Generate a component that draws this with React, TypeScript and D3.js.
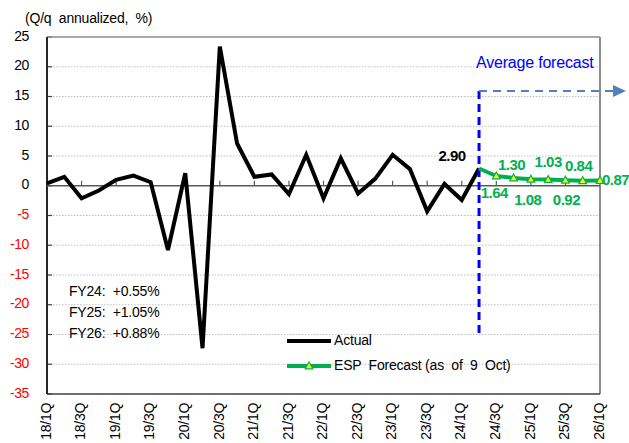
import React from 'react';
import * as d3 from 'd3';

// Quarters on the x axis, 18/1Q .. 26/1Q
const quarters = [
  '18/1Q', '18/2Q', '18/3Q', '18/4Q', '19/1Q', '19/2Q', '19/3Q', '19/4Q',
  '20/1Q', '20/2Q', '20/3Q', '20/4Q', '21/1Q', '21/2Q', '21/3Q', '21/4Q',
  '22/1Q', '22/2Q', '22/3Q', '22/4Q', '23/1Q', '23/2Q', '23/3Q', '23/4Q',
  '24/1Q', '24/2Q', '24/3Q', '24/4Q', '25/1Q', '25/2Q', '25/3Q', '25/4Q',
  '26/1Q',
];

// Actual real GDP growth, 18/1Q .. 24/2Q
const actual = [
  0.4, 1.5, -2.1, -0.8, 1.0, 1.7, 0.6, -10.8,
  2.1, -27.3, 23.4, 7.1, 1.5, 1.9, -1.4, 5.2,
  -2.1, 4.6, -1.3, 1.2, 5.2, 2.8, -4.3, 0.3,
  -2.4, 2.9,
];

// ESP forecast, starting from the last actual (24/2Q)
const forecastQuarters = ['24/2Q', '24/3Q', '24/4Q', '25/1Q', '25/2Q', '25/3Q', '25/4Q', '26/1Q'];
const forecast = [2.9, 1.64, 1.3, 1.08, 1.03, 0.92, 0.84, 0.87];

const yTicks = [25, 20, 15, 10, 5, 0, -5, -10, -15, -20, -25, -30, -35];
const fyNotes = ['FY24:  +0.55%', 'FY25:  +1.05%', 'FY26:  +0.88%'];

// label offsets for the forecast values (skip the first point)
const labelOffsets: [number, number, string][] = [
  [0, 0, 'middle'],
  [-2, 18, 'middle'],
  [-2, -12, 'middle'],
  [-3, 22, 'middle'],
  [0, -17, 'middle'],
  [1, 21, 'middle'],
  [-4, -14, 'middle'],
  [2, 0, 'start'],
];

const W = 629;
const H = 443;
const left = 47, right = 600, top = 37, bottom = 394;
const GREEN = '#00b050';
const font = '"Liberation Sans", Arial, sans-serif';

const x = d3.scalePoint<string>().domain(quarters).range([left, right]).padding(0);
const y = d3.scaleLinear().domain([-35, 25]).range([bottom, top]);

const tri = (cx: number, cy: number, r: number) =>
  `M${cx},${cy - r}L${cx + r * 0.95},${cy + r * 0.7}L${cx - r * 0.95},${cy + r * 0.7}Z`;

export default function App() {
  const actualLine = d3
    .line<number>()
    .x((_, i) => x(quarters[i])!)
    .y(d => y(d))(actual)!;

  const fcLine = d3
    .line<number>()
    .x((_, i) => x(forecastQuarters[i])!)
    .y(d => y(d))(forecast)!;

  const splitX = x('24/2Q')!;
  const y0 = y(0);

  return (
    <svg
      width={W}
      height={H}
      style={{ position: 'absolute', left: 0, top: 0, background: '#fff' }}
      fontFamily={font}
    >
      {/* gridlines */}
      {yTicks.filter(t => t !== 0 && t !== 25 && t !== -35).map(t => (
        <line key={t} x1={left} x2={right} y1={y(t)} y2={y(t)}
          stroke="#bfbfbf" strokeWidth={1} strokeDasharray="1.5,1.5" />
      ))}

      {/* y ticks (inside) */}
      {yTicks.map(t => (
        <line key={'yt' + t} x1={left} x2={left + 5} y1={y(t)} y2={y(t)} stroke="#404040" strokeWidth={1.2} />
      ))}

      {/* frame */}
      <line x1={left} x2={right} y1={top} y2={top} stroke="#8c8c8c" strokeWidth={1.5} />
      <line x1={right} x2={right} y1={top} y2={bottom} stroke="#8c8c8c" strokeWidth={2} />
      <line x1={left} x2={right} y1={bottom} y2={bottom} stroke="#404040" strokeWidth={1.5} />
      <line x1={left} x2={left} y1={top} y2={bottom} stroke="#262626" strokeWidth={2} />

      {/* zero line with category ticks */}
      <line x1={left} x2={right} y1={y0} y2={y0} stroke="#595959" strokeWidth={1.5} />
      {quarters.map((q, i) => i % 2 === 0 && i > 0 && i < quarters.length - 1 ? (
        <line key={'xt' + q} x1={x(q)} x2={x(q)} y1={y0} y2={y0 - 5} stroke="#595959" strokeWidth={1.2} />
      ) : null)}

      {/* y labels */}
      {yTicks.map(t => (
        <text key={'yl' + t} x={29} y={y(t)} textAnchor="end" dominantBaseline="middle"
          fontSize={14} letterSpacing={-0.4} fill={t < 0 ? '#ff0000' : '#000'}>
          {t}
        </text>
      ))}
      <text x={25} y={23} fontSize={14} letterSpacing={-0.2} style={{ whiteSpace: 'pre' }}>
        (Q/q  annualized,  %)
      </text>

      {/* x labels */}
      {quarters.map((q, i) => i % 2 === 0 ? (
        <text key={'xl' + q} transform={`translate(${x(q)},403) rotate(-90)`}
          textAnchor="end" dominantBaseline="middle" fontSize={14} letterSpacing={-0.3}>
          {q}
        </text>
      ) : null)}

      {/* FY notes */}
      {fyNotes.map((s, i) => (
        <text key={s} x={69} y={296 + i * 21} fontSize={14} letterSpacing={-0.2} style={{ whiteSpace: 'pre' }}>
          {s}
        </text>
      ))}

      {/* actual line */}
      <path d={actualLine} fill="none" stroke="#000" strokeWidth={4} strokeLinejoin="miter" strokeMiterlimit={3} />

      {/* forecast divider and arrow */}
      <line x1={splitX} x2={splitX} y1={91} y2={333} stroke="#0000ff" strokeWidth={3} strokeDasharray="8,5" />
      <line x1={splitX} x2={614} y1={91} y2={91} stroke="#4f81bd" strokeWidth={2} strokeDasharray="8,6" />
      <path d="M613,85L626,91L613,97Z" fill="#4f81bd" />
      <text x={476} y={68} fontSize={16} fill="#0000ff" letterSpacing={-0.2}>Average forecast</text>

      {/* forecast line */}
      <path d={fcLine} fill="none" stroke={GREEN} strokeWidth={4} strokeLinejoin="round" />
      {forecast.map((v, i) => i > 0 ? (
        <path key={'m' + i} d={tri(x(forecastQuarters[i])!, y(v), 4)} fill="#ffff00" stroke={GREEN} strokeWidth={1.2} />
      ) : null)}
      {forecast.map((v, i) => i > 0 ? (
        <text key={'fl' + i} x={x(forecastQuarters[i])! + labelOffsets[i][0]} y={y(v) + labelOffsets[i][1]}
          textAnchor={labelOffsets[i][2] as any} dominantBaseline="middle"
          fontSize={15} fontWeight="bold" letterSpacing={-0.5} fill={GREEN}>
          {v.toFixed(2)}
        </text>
      ) : null)}
      <text x={splitX - 27} y={y(actual[actual.length - 1]) - 11} textAnchor="middle" dominantBaseline="middle"
        fontSize={15} fontWeight="bold" letterSpacing={-0.5} fill="#000">
        {actual[actual.length - 1].toFixed(2)}
      </text>

      {/* legend */}
      <line x1={287} x2={331} y1={341} y2={341} stroke="#000" strokeWidth={4} />
      <text x={334} y={341} dominantBaseline="middle" fontSize={14} letterSpacing={-0.2}>Actual</text>
      <line x1={287} x2={331} y1={366} y2={366} stroke={GREEN} strokeWidth={4} />
      <path d={tri(309, 366, 4)} fill="#ffff00" stroke={GREEN} strokeWidth={1.2} />
      <text x={334} y={366} dominantBaseline="middle" fontSize={14} letterSpacing={-0.2} style={{ whiteSpace: 'pre' }}>
        ESP  Forecast (as  of  9  Oct)
      </text>
    </svg>
  );
}
